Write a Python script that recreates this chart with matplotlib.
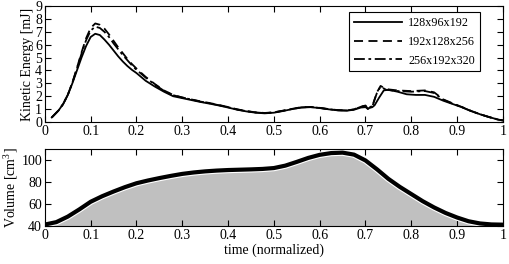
import numpy as np
import matplotlib
matplotlib.use("Agg")
import matplotlib.pyplot as plt

plt.rcParams["font.family"] = ["Liberation Serif", "DejaVu Serif"]
plt.rcParams["mathtext.fontset"] = "custom"
plt.rcParams["mathtext.rm"] = "Liberation Serif"
plt.rcParams["font.size"] = 10

# kinetic energy, coarse grid (128x96x192)
t_coarse = [0.015, 0.03, 0.04, 0.05, 0.06, 0.07, 0.08, 0.09, 0.1, 0.11, 0.12, 0.13, 0.14,
            0.15, 0.16, 0.17, 0.18, 0.19, 0.2, 0.22, 0.24, 0.26, 0.28, 0.3, 0.32, 0.34,
            0.36, 0.38, 0.4, 0.42, 0.44, 0.46, 0.48, 0.5, 0.52, 0.54, 0.56, 0.58, 0.6,
            0.62, 0.64, 0.66, 0.675, 0.69, 0.7, 0.705, 0.715, 0.72, 0.73, 0.74, 0.75,
            0.77, 0.79, 0.81, 0.83, 0.85, 0.87, 0.89, 0.91, 0.93, 0.95, 0.97, 0.99, 1.0]
ke_coarse = [0.35, 0.9, 1.4, 2.1, 3.0, 4.0, 5.0, 5.9, 6.6, 6.85, 6.75, 6.4, 6.0,
             5.55, 5.1, 4.7, 4.35, 4.05, 3.8, 3.2, 2.75, 2.35, 2.0, 1.85, 1.7, 1.55,
             1.42, 1.28, 1.12, 0.95, 0.82, 0.72, 0.67, 0.72, 0.85, 1.0, 1.12, 1.15, 1.08,
             0.98, 0.9, 0.88, 0.95, 1.12, 1.15, 1.05, 1.15, 1.3, 1.9, 2.45, 2.5,
             2.35, 2.15, 2.1, 2.1, 1.95, 1.65, 1.4, 1.15, 0.85, 0.6, 0.38, 0.18, 0.12]

# medium grid (192x128x256)
t_med = [0.015, 0.03, 0.04, 0.05, 0.06, 0.07, 0.08, 0.09, 0.1, 0.11, 0.12, 0.13, 0.14,
         0.15, 0.16, 0.17, 0.18, 0.19, 0.2, 0.22, 0.24, 0.26, 0.28, 0.3, 0.32, 0.34,
         0.36, 0.38, 0.4, 0.42, 0.44, 0.46, 0.48, 0.5, 0.52, 0.54, 0.56, 0.58, 0.6,
         0.62, 0.64, 0.66, 0.675, 0.69, 0.7, 0.705, 0.715, 0.725, 0.733, 0.745, 0.77,
         0.8, 0.83, 0.85, 0.87, 0.89, 0.91, 0.93, 0.95, 0.97, 0.99, 1.0]
ke_med = [0.35, 0.9, 1.4, 2.1, 3.05, 4.2, 5.4, 6.5, 7.3, 7.65, 7.55, 7.25, 6.8,
          6.3, 5.8, 5.35, 4.9, 4.5, 4.15, 3.5, 2.95, 2.45, 2.1, 1.9, 1.75, 1.6,
          1.47, 1.32, 1.16, 0.98, 0.85, 0.75, 0.7, 0.75, 0.88, 1.02, 1.15, 1.17, 1.1,
          1.0, 0.92, 0.9, 0.98, 1.2, 1.25, 1.0, 1.2, 2.3, 2.8, 2.55, 2.45,
          2.4, 2.45, 2.3, 1.75, 1.45, 1.17, 0.87, 0.6, 0.38, 0.18, 0.12]

# fine grid (256x192x320)
t_fine = [0.015, 0.03, 0.04, 0.05, 0.06, 0.07, 0.08, 0.09, 0.1, 0.11, 0.12, 0.13, 0.14,
          0.15, 0.16, 0.17, 0.18, 0.19, 0.2, 0.22, 0.24, 0.26, 0.28, 0.3, 0.32, 0.34,
          0.36, 0.38, 0.4, 0.42, 0.44, 0.46, 0.48, 0.5, 0.52, 0.54, 0.56, 0.58, 0.6,
          0.62, 0.64, 0.66, 0.675, 0.69, 0.7, 0.705, 0.715, 0.725, 0.733, 0.745, 0.77,
          0.8, 0.83, 0.85, 0.87, 0.89, 0.91, 0.93, 0.95, 0.97, 0.99, 1.0]
ke_fine = [0.35, 0.9, 1.4, 2.1, 3.05, 4.15, 5.3, 6.35, 7.1, 7.4, 7.3, 7.0, 6.6,
           6.1, 5.65, 5.2, 4.8, 4.4, 4.05, 3.45, 2.9, 2.42, 2.08, 1.9, 1.74, 1.58,
           1.45, 1.3, 1.15, 0.97, 0.84, 0.74, 0.69, 0.74, 0.87, 1.01, 1.13, 1.16, 1.09,
           0.99, 0.91, 0.89, 0.97, 1.18, 1.28, 1.05, 1.25, 2.25, 2.75, 2.5, 2.4,
           2.35, 2.4, 2.25, 1.72, 1.43, 1.16, 0.86, 0.6, 0.38, 0.18, 0.12]

# volume
t_vol = [0.0, 0.025, 0.05, 0.075, 0.1, 0.125, 0.15, 0.175, 0.2, 0.225, 0.25, 0.275, 0.3,
         0.325, 0.35, 0.375, 0.4, 0.425, 0.45, 0.475, 0.5, 0.525, 0.55, 0.575, 0.6, 0.625,
         0.65, 0.675, 0.7, 0.725, 0.75, 0.775, 0.8, 0.825, 0.85, 0.875, 0.9, 0.925, 0.95,
         0.975, 1.0]
vol = [41.3, 43.5, 48.5, 55, 62, 67, 71.3, 75.3, 78.8, 81.3, 83.5, 85.5, 87.3,
       88.6, 89.6, 90.3, 90.8, 91.1, 91.4, 91.8, 92.6, 94.8, 98.2, 101.8, 104.6, 106.2,
       106.6, 104.8, 99.5, 91.5, 82.8, 75.5, 69, 62.5, 56.8, 51.8, 47.7, 44.3, 42.3,
       41.4, 41.2]

xticks = [0, 0.1, 0.2, 0.3, 0.4, 0.5, 0.6, 0.7, 0.8, 0.9, 1]
xticklabels = ["0", "0.1", "0.2", "0.3", "0.4", "0.5", "0.6", "0.7", "0.8", "0.9", "1"]

fig = plt.figure(figsize=(5.1, 2.64), dpi=100)
ax1 = fig.add_axes([0.088, 0.538, 0.898, 0.439])
ax2 = fig.add_axes([0.088, 0.144, 0.898, 0.292])

ax1.plot(t_coarse, ke_coarse, color="k", lw=1.3, label="128x96x192")
ax1.plot(t_med, ke_med, color="k", lw=1.3, ls=(0, (5, 3)), label="192x128x256")
ax1.plot(t_fine, ke_fine, color="k", lw=1.3, ls=(0, (6, 2, 1.5, 2)), label="256x192x320")
ax1.set_xlim(0, 1)
ax1.set_ylim(0, 9)
ax1.set_yticks(range(10))
ax1.set_xticks(xticks)
ax1.set_xticklabels(xticklabels)
ax1.set_ylabel("Kinetic Energy [mJ]", labelpad=1)
leg = ax1.legend(loc="upper right", bbox_to_anchor=(0.95, 0.945), borderaxespad=0,
                 fancybox=False, edgecolor="k", framealpha=1, fontsize=8.7,
                 handlelength=4.0, labelspacing=0.55, borderpad=0.4, handletextpad=0.5)
leg.get_frame().set_linewidth(0.8)

ax2.fill_between(t_vol, vol, 40, color="#c0c0c0", lw=0)
ax2.plot(t_vol, vol, color="w", lw=4.6)
ax2.plot(t_vol, vol, color="k", lw=3.0)
ax2.set_xlim(0, 1)
ax2.set_ylim(40, 110)
ax2.set_yticks([40, 60, 80, 100])
ax2.set_xticks(xticks)
ax2.set_xticklabels(xticklabels)
ax2.set_ylabel("Volume [cm$^3$]", labelpad=1)
ax2.set_xlabel("time (normalized)", labelpad=1)

for ax in (ax1, ax2):
    ax.tick_params(direction="in", top=True, right=True, length=4, width=0.8, pad=2)
    for s in ax.spines.values():
        s.set_linewidth(0.8)

fig.savefig("out.png", dpi=100)
